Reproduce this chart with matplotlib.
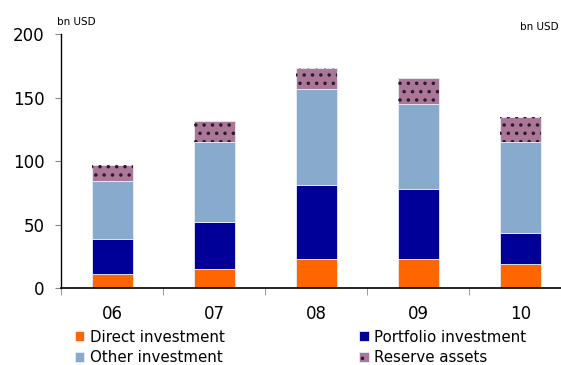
import matplotlib
matplotlib.use("Agg")
import matplotlib.pyplot as plt
import numpy as np

# values in bn USD
years = ["06", "07", "08", "09", "10"]
direct = [11.5, 15.1, 23.0, 23.2, 19.0]
portfolio = [27.3, 37.5, 58.5, 55.1, 24.7]
other = [46.0, 63.1, 75.5, 67.1, 71.3]
reserve = [12.2, 16.3, 16.8, 20.6, 20.4]

labels = ["Direct investment", "Portfolio investment", "Other investment", "Reserve assets"]
colors = ["#FF6600", "#000099", "#88AACC", "#AA7799"]

plt.rcParams["font.family"] = ["DejaVu Sans"]
plt.rcParams["hatch.linewidth"] = 1.3

fig = plt.figure(figsize=(5.61, 3.65), dpi=100)
ax = fig.add_axes([0.1096, 0.2096, 0.909, 0.696])

x = np.arange(len(years))
width = 0.40
bottom = np.zeros(len(years))
handles = []
for i, vals in enumerate([direct, portfolio, other, reserve]):
    b = ax.bar(x, vals, width, bottom=bottom, color=colors[i],
               edgecolor="#E8EEF4", linewidth=0.6, label=labels[i], zorder=2)
    if i == 3:
        # dotted pattern on the reserve segment
        h = ax.bar(x, vals, width, bottom=bottom, fill=False, hatch="..",
                   edgecolor="#2a1a2a", linewidth=0, zorder=3)
        b = (b, h)
    bottom += np.array(vals)
    handles.append(b)

ax.set_xlim(-0.5, len(years) - 0.5)
ax.set_ylim(0, 200)
ax.set_yticks([0, 50, 100, 150, 200])
ax.set_xticks(x)
ax.set_xticklabels(years)
ax.set_xticks(np.arange(-0.5, len(years), 1.0), minor=True)
ax.tick_params(axis="x", which="major", length=0, pad=12, labelsize=12)
ax.tick_params(axis="x", which="minor", length=5, color="#888888", direction="out")
ax.tick_params(axis="y", length=4, color="#888888", labelsize=12, pad=8)

for s in ["top", "right"]:
    ax.spines[s].set_visible(False)
ax.spines["left"].set_linewidth(1.0)
ax.spines["bottom"].set_linewidth(1.2)

fig.text(57 / 561, 1 - 22 / 365, "bn USD", fontsize=7.5, va="center", ha="left")
fig.text(559 / 561, 1 - 27 / 365, "bn USD", fontsize=7.5, va="center", ha="right")

# legend fills column-wise, so order for row-major reading
order = [0, 2, 1, 3]
leg = fig.legend(handles=[handles[k] for k in order],
                 labels=[labels[k] for k in order], ncol=2, loc="upper left",
                 bbox_to_anchor=(0.133, 0.097), frameon=False,
                 fontsize=10.8, handlelength=0.65, handleheight=0.65,
                 handletextpad=0.35, columnspacing=9.0, labelspacing=0.38,
                 borderaxespad=0, borderpad=0)

fig.savefig("out.png", dpi=100)
